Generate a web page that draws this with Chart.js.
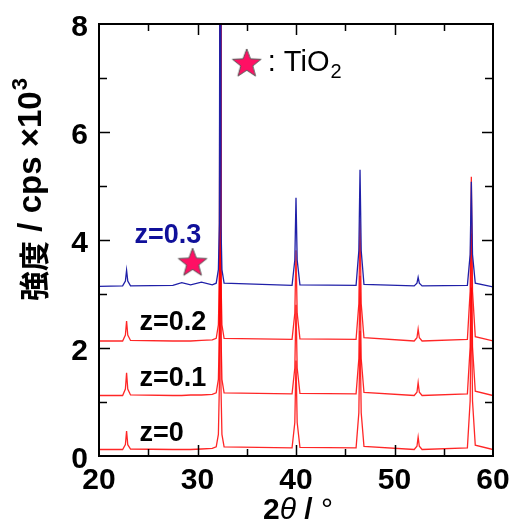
<!DOCTYPE html>
<html>
<head>
<meta charset="utf-8">
<script src="https://cdn.jsdelivr.net/npm/chart.js@4"></script>
<style>
  html, body { margin: 0; padding: 0; background: #fff; }
</style>
</head>
<body>
<canvas id="xrd" width="512" height="524"></canvas>
<script>
// 2theta positions (deg) shared by the four patterns
const twoTheta = [20, 22.4, 22.68, 22.8, 22.92, 23.2, 27.5, 28.4, 29.3, 30.4, 31.5,
  31.9, 32.12, 32.22, 32.3, 32.38, 32.48, 32.7,
  39.6, 39.88, 40.0, 40.12, 40.4, 46.1, 46.38, 46.5, 46.62, 46.9, 52.0, 52.28, 52.4, 52.52, 52.8,
  57.4, 57.68, 57.8, 57.92, 58.2, 60];

// intensity (x10^3 cps), patterns already offset as in the figure
const z0 = [0.12, 0.12, 0.21, 0.46, 0.21, 0.13, 0.12, 0.12, 0.12, 0.13, 0.14,
  0.17, 0.4, 1.3, 9.5, 1.3, 0.4, 0.17,
  0.15, 0.62, 1.77, 0.62, 0.16, 0.15, 0.8, 2.32, 0.8, 0.18, 0.12, 0.18, 0.35, 0.18, 0.12,
  0.15, 1.02, 3.12, 1.02, 0.2, 0.12];
const z01 = [1.12, 1.12, 1.24, 1.54, 1.24, 1.13, 1.12, 1.12, 1.13, 1.13, 1.14,
  1.17, 1.42, 2.3, 10.5, 2.3, 1.42, 1.17,
  1.15, 1.63, 2.8, 1.63, 1.16, 1.15, 1.8, 3.34, 1.8, 1.18, 1.12, 1.18, 1.36, 1.18, 1.12,
  1.15, 2.02, 4.12, 2.02, 1.2, 1.12];
const z02 = [2.13, 2.13, 2.24, 2.5, 2.24, 2.14, 2.13, 2.13, 2.13, 2.14, 2.15,
  2.18, 2.43, 3.3, 11.5, 3.3, 2.43, 2.18,
  2.16, 2.64, 3.81, 2.64, 2.17, 2.16, 2.82, 4.37, 2.82, 2.19, 2.13, 2.19, 2.35, 2.19, 2.13,
  2.16, 3.05, 5.17, 3.05, 2.21, 2.13];
const z03 = [3.14, 3.15, 3.24, 3.44, 3.24, 3.15, 3.16, 3.21, 3.17, 3.22, 3.17,
  3.2, 3.45, 4.3, 12.5, 4.3, 3.45, 3.2,
  3.16, 3.63, 4.78, 3.63, 3.17, 3.16, 3.8, 5.3, 3.8, 3.18, 3.15, 3.2, 3.31, 3.2, 3.15,
  3.16, 3.73, 5.08, 3.73, 3.2, 3.13];

// TiO2 star markers (one on the pattern, one as legend key)
const starX = [29.5, 35.0];
const starY = [3.59, 7.28];

const xTickValues = [20, 30, 40, 50, 60];
const yTickValues = [0, 2, 4, 6, 8];

const FONT = "'Liberation Sans', Arial, sans-serif";
const RED = 'rgba(255, 0, 0, 0.85)';
const BLUE = '#2020a8';

function toPoints(ys) {
  return twoTheta.map((t, i) => ({ x: t, y: ys[i] }));
}

// filled five point star used as point style
function makeStar(r) {
  const c = document.createElement('canvas');
  const s = Math.ceil(r * 2 + 4);
  c.width = s; c.height = s;
  const g = c.getContext('2d');
  g.beginPath();
  for (let k = 0; k < 10; k++) {
    const rad = k % 2 === 0 ? r : r * 0.42;
    const a = -Math.PI / 2 + k * Math.PI / 5;
    const px = s / 2 + rad * Math.cos(a), py = s / 2 + rad * Math.sin(a) + 1;
    if (k === 0) g.moveTo(px, py); else g.lineTo(px, py);
  }
  g.closePath();
  g.fillStyle = '#ff1064';
  g.fill();
  g.strokeStyle = '#555';
  g.lineWidth = 1;
  g.stroke();
  return c;
}

const zLabels = [
  { text: 'z=0.3', x: 23.6, y: 4.09, color: '#10109a' },
  { text: 'z=0.2', x: 24.1, y: 2.48, color: '#000' },
  { text: 'z=0.1', x: 24.1, y: 1.43, color: '#000' },
  { text: 'z=0',   x: 24.1, y: 0.41, color: '#000' }
];

const decor = {
  id: 'decor',
  afterDraw(chart) {
    const { ctx, chartArea: a, scales: { x, y } } = chart;
    ctx.save();
    ctx.strokeStyle = '#000';
    // inward tick marks on all four sides
    ctx.lineWidth = 1.5;
    ctx.beginPath();
    for (let v = 25; v < 60; v += 5) {
      const px = Math.round(x.getPixelForValue(v)) + 0.5;
      const len = v % 10 === 0 ? 11 : 7;
      ctx.moveTo(px, a.bottom); ctx.lineTo(px, a.bottom - len);
      ctx.moveTo(px, a.top); ctx.lineTo(px, a.top + len);
    }
    for (let v = 1; v < 8; v++) {
      const py = Math.round(y.getPixelForValue(v)) + 0.5;
      const len = v % 2 === 0 ? 11 : 8;
      ctx.moveTo(a.left, py); ctx.lineTo(a.left + len, py);
      ctx.moveTo(a.right, py); ctx.lineTo(a.right - len, py);
    }
    ctx.stroke();
    ctx.lineWidth = 2;
    ctx.strokeRect(a.left, a.top, a.right - a.left, a.bottom - a.top);

    // pattern labels
    ctx.textBaseline = 'middle';
    ctx.textAlign = 'left';
    ctx.font = 'bold 27px ' + FONT;
    zLabels.forEach(l => {
      ctx.fillStyle = l.color;
      ctx.fillText(l.text, x.getPixelForValue(l.x), y.getPixelForValue(l.y));
    });

    // legend text next to the star
    ctx.fillStyle = '#000';
    let lx = x.getPixelForValue(starX[1]) + 21;
    const ly = y.getPixelForValue(starY[1]);
    ctx.font = '29px ' + FONT;
    ctx.fillText(': TiO', lx, ly);
    lx += ctx.measureText(': TiO').width;
    ctx.font = '20px ' + FONT;
    ctx.fillText('2', lx + 1, ly + 10);

    // y axis title
    ctx.save();
    ctx.translate(32, 190);
    ctx.rotate(-Math.PI / 2);
    const cjk = "bold 30px 'Noto Sans CJK JP', sans-serif";
    const lat = 'bold 33px ' + FONT;
    const sup = 'bold 22px ' + FONT;
    ctx.font = cjk; const w1 = ctx.measureText('強度').width;
    ctx.font = lat; const w2 = ctx.measureText(' / cps ×10').width;
    ctx.font = sup; const w3 = ctx.measureText('3').width;
    let u = -(w1 + w2 + w3) / 2;
    ctx.font = cjk; ctx.fillText('強度', u, 2); u += w1;
    ctx.font = lat; ctx.fillText(' / cps ×10', u, 0); u += w2;
    ctx.font = sup; ctx.fillText('3', u + 1, -11);
    ctx.restore();

    // x axis title
    ctx.textBaseline = 'alphabetic';
    const parts = [
      ['2', 'bold 30px ' + FONT],
      ['θ', 'italic 30px ' + FONT],
      [' / ', 'bold 30px ' + FONT],
      ['°', '30px ' + FONT]
    ];
    let total = 0;
    parts.forEach(p => { ctx.font = p[1]; total += ctx.measureText(p[0]).width; });
    let tx = 298 - total / 2;
    parts.forEach(p => { ctx.font = p[1]; ctx.fillText(p[0], tx, 519); tx += ctx.measureText(p[0]).width; });
    ctx.restore();
  }
};

const lineSet = (ys, color) => ({
  data: toPoints(ys),
  borderColor: color,
  borderWidth: 1.3,
  pointRadius: 0,
  tension: 0,
  fill: false
});

new Chart(document.getElementById('xrd'), {
  type: 'line',
  data: {
    datasets: [
      {
        type: 'scatter',
        data: starX.map((v, i) => ({ x: v, y: starY[i] })),
        pointStyle: makeStar(15),
        pointRadius: 15,
        showLine: false,
        clip: false
      },
      lineSet(z03, BLUE),
      lineSet(z02, RED),
      lineSet(z01, RED),
      lineSet(z0, RED)
    ]
  },
  options: {
    responsive: false,
    animation: false,
    layout: { padding: { left: 0, top: 24, right: 19, bottom: 0 } },
    plugins: { legend: { display: false }, tooltip: { enabled: false } },
    scales: {
      x: {
        type: 'linear',
        min: 20, max: 60,
        afterBuildTicks: s => { s.ticks = xTickValues.map(v => ({ value: v })); },
        afterFit: s => { s.height = 68; s.paddingLeft = 0; s.paddingRight = 0; },
        grid: { display: false, drawTicks: false },
        border: { display: false },
        ticks: { color: '#000', padding: 7, maxRotation: 0, autoSkip: false,
          font: { family: FONT, size: 30, weight: 'bold' } }
      },
      y: {
        min: 0, max: 8,
        afterBuildTicks: s => { s.ticks = yTickValues.map(v => ({ value: v })); },
        afterFit: s => { s.width = 99; s.paddingTop = 0; s.paddingBottom = 0; },
        grid: { display: false, drawTicks: false },
        border: { display: false },
        ticks: { color: '#000', padding: 11, labelOffset: 4,
          font: { family: FONT, size: 30, weight: 'bold' } }
      }
    }
  },
  plugins: [decor]
});
</script>
</body>
</html>
